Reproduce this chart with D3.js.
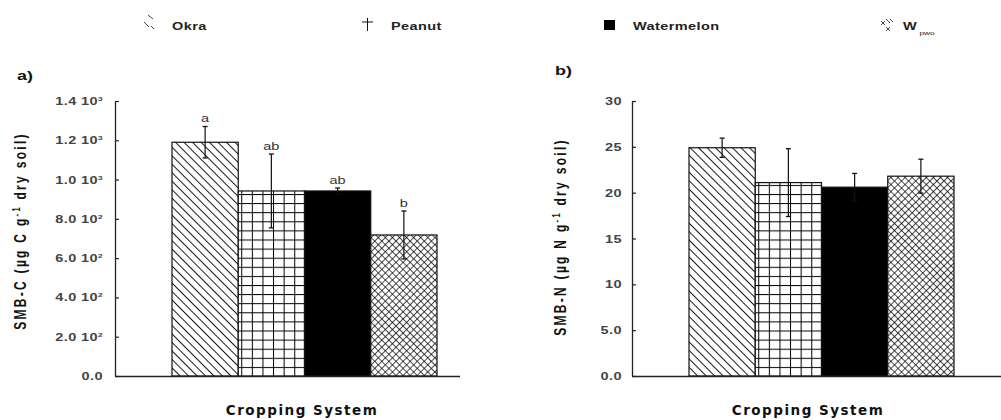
<!DOCTYPE html>
<html><head><meta charset="utf-8">
<script src="https://cdn.jsdelivr.net/npm/d3@7"></script>
<style>
body{margin:0;background:#fff;}
svg{display:block;}
</style></head>
<body><svg id="chart" width="1001" height="420"></svg>
<script>
// ---- data ----
const categories = ["Okra", "Peanut", "Watermelon", "Wpwo"];
const smbC = [1190, 942, 942, 718];
const smbCErr = [80, 188, 15, 122];
const smbCLetters = ["a", "ab", "ab", "b"];
const smbN = [24.9, 21.1, 20.6, 21.8];
const smbNErr = [1.05, 3.7, 1.5, 1.85];
const cTicks = [0, 200, 400, 600, 800, 1000, 1200, 1400];
const cTickMantissa = ["0.0", "2.0", "4.0", "6.0", "8.0", "1.0", "1.2", "1.4"];
const cTickExp = ["", "2", "2", "2", "2", "3", "3", "3"];
const nTicks = [0, 5, 10, 15, 20, 25, 30];
const nTickLabels = ["0.0", "5.0", "10", "15", "20", "25", "30"];

const svg = d3.select("#chart");
const defs = svg.append("defs");
const FONT = "'Liberation Sans', Arial, sans-serif";
const SX = 1.38; // horizontal stretch of the original artwork's text

function stext(parent, x, y, size, opts = {}) {
  return parent.append("text")
    .attr("transform", `translate(${x},${y}) scale(${SX},1)`)
    .attr("font-family", opts.family || FONT).attr("font-size", size)
    .attr("font-weight", opts.weight || "bold").attr("fill", opts.fill || "#222")
    .attr("text-anchor", opts.anchor || "start");
}

function makePatterns(id, gridX) {
  const p1 = defs.append("pattern").attr("id", "diag" + id)
    .attr("patternUnits", "userSpaceOnUse").attr("width", 6).attr("height", 6)
    .attr("patternTransform", "rotate(45)");
  p1.append("rect").attr("width", 6).attr("height", 6).attr("fill", "#fff");
  p1.append("line").attr("x1", 0).attr("y1", 0.5).attr("x2", 6).attr("y2", 0.5)
    .attr("stroke", "#000").attr("stroke-width", 0.9);
  const p2 = defs.append("pattern").attr("id", "grid" + id)
    .attr("patternUnits", "userSpaceOnUse").attr("width", 10.6).attr("height", 9.1)
    .attr("x", gridX).attr("y", 376);
  p2.append("rect").attr("width", 10.6).attr("height", 9.1).attr("fill", "#fff");
  p2.append("line").attr("x1", 0.5).attr("y1", 0).attr("x2", 0.5).attr("y2", 9.1)
    .attr("stroke", "#000").attr("stroke-width", 1);
  p2.append("line").attr("x1", 0).attr("y1", 0.5).attr("x2", 10.6).attr("y2", 0.5)
    .attr("stroke", "#000").attr("stroke-width", 1);
  const p3 = defs.append("pattern").attr("id", "cross" + id)
    .attr("patternUnits", "userSpaceOnUse").attr("width", 5).attr("height", 5)
    .attr("patternTransform", "rotate(45)");
  p3.append("rect").attr("width", 5).attr("height", 5).attr("fill", "#fff");
  p3.append("line").attr("x1", 0).attr("y1", 0.4).attr("x2", 5).attr("y2", 0.4)
    .attr("stroke", "#000").attr("stroke-width", 0.8);
  p3.append("line").attr("x1", 0.4).attr("y1", 0).attr("x2", 0.4).attr("y2", 5)
    .attr("stroke", "#000").attr("stroke-width", 0.8);
  return ["url(#diag" + id + ")", "url(#grid" + id + ")", "#000", "url(#cross" + id + ")"];
}

function panel(opt) {
  const {x0, xEnd, values, errs, letters, domain, ticks, label, labelX, id, tickFmt, title,
         panelLabel, plx, ply, titleX, titleY, tickGap} = opt;
  const y = d3.scaleLinear().domain(domain).range([376, 101]);
  const x = d3.scaleBand().domain(categories).range([x0 + 57, x0 + 322]).paddingInner(0).paddingOuter(0);
  const fills = makePatterns(id, x(categories[1]) + 3);
  const g = svg.append("g");

  g.selectAll("rect.bar").data(categories).join("rect")
    .attr("class", "bar")
    .attr("x", d => x(d)).attr("width", x.bandwidth())
    .attr("y", (d, i) => y(values[i])).attr("height", (d, i) => y(0) - y(values[i]))
    .attr("fill", (d, i) => fills[i]).attr("stroke", "#111").attr("stroke-width", 1.2);

  const cx = d => x(d) + x.bandwidth() / 2;
  const eg = g.selectAll("g.err").data(categories).join("g").attr("class", "err")
    .attr("stroke", "#111");
  eg.append("line").attr("x1", cx).attr("x2", cx)
    .attr("y1", (d, i) => y(values[i] + errs[i])).attr("y2", (d, i) => y(values[i] - errs[i]))
    .attr("stroke-width", 1.2);
  eg.append("line").attr("x1", d => cx(d) - 2.5).attr("x2", d => cx(d) + 2.5)
    .attr("y1", (d, i) => y(values[i] + errs[i])).attr("y2", (d, i) => y(values[i] + errs[i]))
    .attr("stroke-width", 1.3);
  eg.append("line").attr("x1", d => cx(d) - 2.5).attr("x2", d => cx(d) + 2.5)
    .attr("y1", (d, i) => y(values[i] - errs[i])).attr("y2", (d, i) => y(values[i] - errs[i]))
    .attr("stroke-width", 1.3);

  if (letters) {
    categories.forEach((d, i) => {
      stext(g, cx(d), y(values[i] + errs[i]) - 4.5, 10.5, {weight: "normal", fill: "#333", anchor: "middle"})
        .text(letters[i]);
    });
  }

  const ax = d3.axisLeft(y).tickValues(ticks).tickSize(-4).tickSizeOuter(0).tickFormat(() => "");
  const ag = g.append("g").attr("transform", `translate(${x0},0)`).call(ax);
  ag.select(".domain").attr("stroke", "#222").attr("stroke-width", 1.3);
  ag.selectAll(".tick line").attr("stroke", "#222").attr("stroke-width", 1.2);
  ag.selectAll(".tick text").remove();
  ticks.forEach((v, i) => {
    const t = stext(g, x0 - tickGap, y(v) + 4, 10.5, {fill: "#444", anchor: "end"})
      .attr("letter-spacing", 0.3);
    tickFmt(t, i);
  });

  g.append("line").attr("x1", x0).attr("x2", xEnd).attr("y1", 376.5).attr("y2", 376.5)
    .attr("stroke", "#222").attr("stroke-width", 1.3);

  const yt = g.append("text")
    .attr("transform", `translate(${titleX},${titleY}) scale(${SX},1) rotate(-90)`)
    .attr("text-anchor", "middle").attr("font-family", FONT).attr("font-size", 12)
    .attr("font-weight", "bold").attr("fill", "#111").attr("letter-spacing", 2.3);
  yt.append("tspan").text(title[0]);
  yt.append("tspan").attr("dy", -4.5).attr("font-size", 7.5).text("-1");
  yt.append("tspan").attr("dy", 4.5).text(title[1]);

  g.append("text").attr("x", labelX).attr("y", 415).attr("text-anchor", "middle")
    .attr("font-family", "'DejaVu Sans', Verdana, sans-serif").attr("font-size", 13.5)
    .attr("font-weight", "bold").attr("fill", "#111").attr("letter-spacing", 1.5)
    .text(label);

  stext(g, plx, ply, 13, {fill: "#111"}).text(panelLabel);
}

panel({
  x0: 115, xEnd: 460, values: smbC, errs: smbCErr, letters: smbCLetters,
  domain: [0, 1400], ticks: cTicks, label: "Cropping System", labelX: 302, id: "a", tickGap: 12,
  tickFmt: (t, i) => {
    t.append("tspan").text(cTickMantissa[i] + (cTickExp[i] ? " 10" : ""));
    if (cTickExp[i]) t.append("tspan").attr("dy", -4).attr("font-size", 6).text(cTickExp[i]);
  },
  title: ["SMB-C (µg C g", " dry soil)"], panelLabel: "a)", plx: 17, ply: 80,
  titleX: 26, titleY: 231
});
panel({
  x0: 632, xEnd: 1001, values: smbN, errs: smbNErr, letters: null,
  domain: [0, 30], ticks: nTicks, label: "Cropping System", labelX: 808, id: "b", tickGap: 10,
  tickFmt: (t, i) => { t.text(nTickLabels[i]); },
  title: ["SMB-N (µg N g", " dry soil)"], panelLabel: "b)", plx: 555, ply: 75,
  titleX: 566, titleY: 237
});

// ---- legend ----
const lg = svg.append("g");
const legendText = (x, t) => stext(lg, x, 29.5, 10.5, {fill: "#222"}).attr("letter-spacing", 0.3).text(t);
[[144, 22, 149, 27], [148, 15, 153, 19], [151, 26, 154, 29]].forEach(s =>
  lg.append("line").attr("x1", s[0]).attr("y1", s[1]).attr("x2", s[2]).attr("y2", s[3])
    .attr("stroke", "#333").attr("stroke-width", 0.9));
legendText(172, categories[0]);
lg.append("line").attr("x1", 362).attr("x2", 373).attr("y1", 22).attr("y2", 22).attr("stroke", "#111");
lg.append("line").attr("x1", 367.5).attr("x2", 367.5).attr("y1", 18).attr("y2", 31).attr("stroke", "#111");
legendText(391, categories[1]);
lg.append("rect").attr("x", 604).attr("y", 20).attr("width", 11).attr("height", 10).attr("fill", "#000");
legendText(633, categories[2]);
[[881, 21, 885, 25], [885, 21, 881, 25], [886, 19, 890, 23], [886, 27, 890, 31], [890, 27, 886, 31], [890, 19, 893, 22]].forEach(s =>
  lg.append("line").attr("x1", s[0]).attr("y1", s[1]).attr("x2", s[2]).attr("y2", s[3])
    .attr("stroke", "#333").attr("stroke-width", 0.9));
const wt = stext(lg, 903, 29.5, 10.5, {fill: "#222"});
wt.append("tspan").text("W");
wt.append("tspan").attr("dx", 2).attr("dy", 5).attr("font-size", 6).attr("font-weight", "normal").text("pwo");
</script></body></html>
